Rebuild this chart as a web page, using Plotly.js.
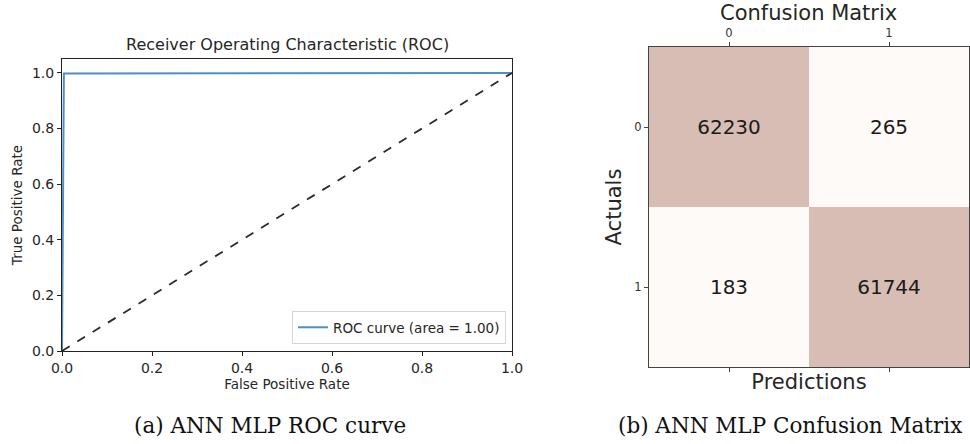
<!DOCTYPE html>
<html><head><meta charset="utf-8">
<script src="https://cdn.plot.ly/plotly-3.0.1.min.js"></script>
<style>html,body{margin:0;padding:0;background:#fff}#chart{width:970px;height:444px}</style>
</head><body><div id="chart"></div>
<script>
// ROC data
const fpr = [0, 0.0042, 1];
const tpr = [0, 0.998, 1];
const diagX = [0, 1];
const diagY = [0, 1];
const rocLabel = 'ROC curve (area = 1.00)';
// Confusion matrix data
const cmPred = [0, 1];
const cmActual = [0, 1];
const cmValues = [[62230, 265], [183, 61744]];
const cmTickLabels = ['0', '1'];

const W = 970, H = 444;
const px = v => v / W, py = v => 1 - v / H;
const sans = 'DejaVu Sans';
const ink = '#262626';

const traces = [
  {x: fpr, y: tpr, type: 'scatter', mode: 'lines', name: rocLabel,
   line: {color: '#4f8fc4', width: 2}, xaxis: 'x', yaxis: 'y', showlegend: true},
  {x: diagX, y: diagY, type: 'scatter', mode: 'lines', showlegend: false,
   line: {color: '#2b2b2b', width: 1.8, dash: 'dash'}, xaxis: 'x', yaxis: 'y'},
  {x: cmPred, y: cmActual, z: cmValues, type: 'heatmap', xaxis: 'x2', yaxis: 'y2',
   colorscale: [[0, '#fefaf7'], [1, '#d8bdb4']], showscale: false,
   texttemplate: '%{z:.0f}', textfont: {family: sans, size: 20, color: '#1a1a1a'},
   hoverinfo: 'skip', xgap: 0, ygap: 0},
  {x: cmPred, y: cmActual, type: 'scatter', mode: 'markers', marker: {opacity: 0},
   xaxis: 'x3', yaxis: 'y2', showlegend: false, hoverinfo: 'skip'}
];

const ann = (text, x, y, size, family, color) => ({text, x: px(x), y: py(y), xref: 'paper', yref: 'paper',
  xanchor: 'center', yanchor: 'middle', showarrow: false, font: {family, size, color}});

const layout = {
  width: W, height: H, margin: {l: 0, r: 0, t: 0, b: 0},
  paper_bgcolor: '#fff', plot_bgcolor: '#fff',
  font: {family: sans, color: ink},
  showlegend: true,
  legend: {x: px(506), y: py(344), xanchor: 'right', yanchor: 'bottom',
    bgcolor: 'rgba(255,255,255,0.9)', bordercolor: '#d6d6d6', borderwidth: 1,
    font: {family: sans, size: 13.5, color: ink}},
  xaxis: {domain: [px(62), px(512)], range: [0, 1], tickvals: [0, 0.2, 0.4, 0.6, 0.8, 1.0],
    ticktext: ['0.0', '0.2', '0.4', '0.6', '0.8', '1.0'],
    showline: true, linecolor: '#222', linewidth: 1, mirror: true, ticks: 'outside', ticklen: 4,
    tickcolor: '#222', showgrid: false, zeroline: false, tickfont: {size: 14, color: ink},
    title: {text: 'False Positive Rate', font: {size: 13.5, color: ink}, standoff: 3},
    anchor: 'y'},
  yaxis: {domain: [py(351), py(59)], range: [0, 1.05], tickvals: [0, 0.2, 0.4, 0.6, 0.8, 1.0],
    ticktext: ['0.0', '0.2', '0.4', '0.6', '0.8', '1.0'],
    showline: true, linecolor: '#222', linewidth: 1, mirror: true, ticks: 'outside', ticklen: 4,
    tickcolor: '#222', showgrid: false, zeroline: false, tickfont: {size: 14, color: ink},
    title: {text: 'True Positive Rate', font: {size: 13.5, color: ink}, standoff: 6},
    anchor: 'x'},
  xaxis2: {domain: [px(649), px(969)], range: [-0.5, 1.5], side: 'top', anchor: 'y2',
    tickvals: cmPred, ticktext: cmTickLabels, ticks: 'outside', ticklen: 4, tickcolor: '#444',
    tickfont: {size: 11.5, color: '#333'}, showline: true, mirror: true, linecolor: '#444',
    linewidth: 1, showgrid: false, zeroline: false},
  xaxis3: {domain: [px(649), px(969)], range: [-0.5, 1.5], side: 'bottom', anchor: 'y2',
    overlaying: 'x2', tickvals: cmPred, showticklabels: false, ticks: 'outside', ticklen: 4,
    tickcolor: '#444', showgrid: false, zeroline: false,
    title: {text: 'Predictions', font: {size: 21, color: ink}, standoff: 3}},
  yaxis2: {domain: [py(367), py(47)], range: [1.5, -0.5], anchor: 'x2',
    tickvals: cmActual, ticktext: cmTickLabels, ticks: 'outside', ticklen: 4, tickcolor: '#444',
    tickfont: {size: 11.5, color: '#333'}, showline: true, mirror: true, linecolor: '#444',
    linewidth: 1, showgrid: false, zeroline: false,
    title: {text: 'Actuals', font: {size: 21, color: ink}, standoff: 7}},
  annotations: [
    ann('Receiver Operating Characteristic (ROC)', 287, 45, 16, sans, ink),
    ann('Confusion Matrix', 808, 13, 21, sans, ink),
    ann('(a) ANN MLP ROC curve', 270, 425, 21.5, 'DejaVu Serif', '#111'),
    ann('(b) ANN MLP Confusion Matrix', 790, 425, 21.5, 'DejaVu Serif', '#111')
  ]
};

Plotly.newPlot('chart', traces, layout, {staticPlot: true, displayModeBar: false});
</script></body></html>
